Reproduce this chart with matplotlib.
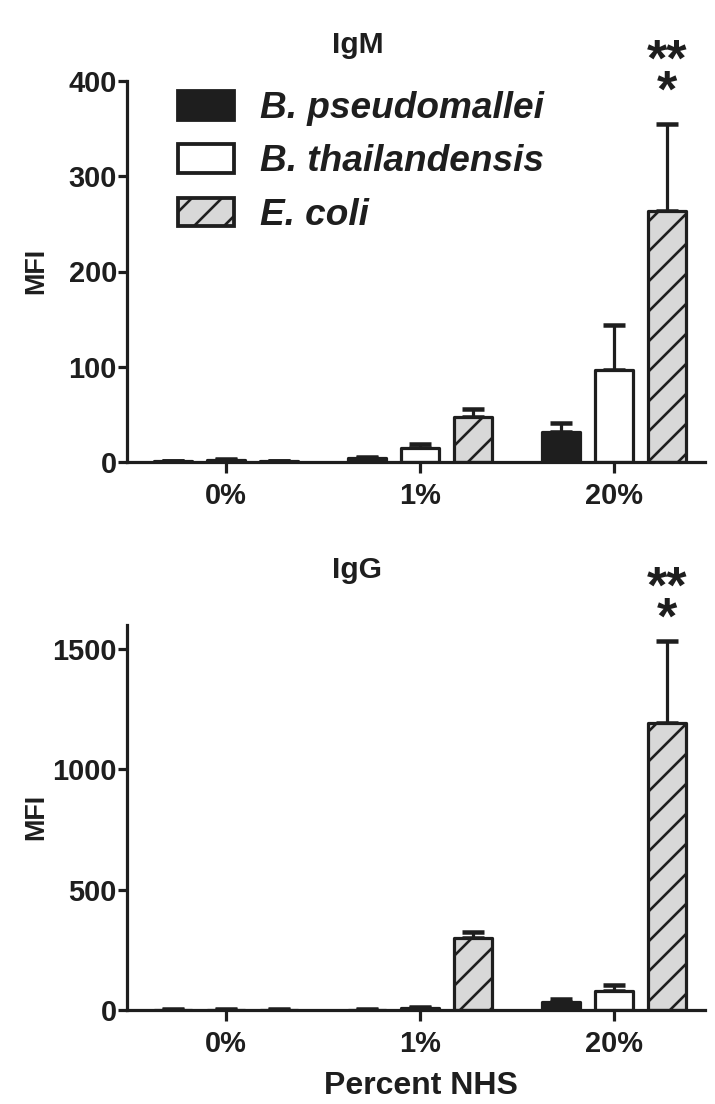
import matplotlib
matplotlib.use("Agg")
import matplotlib.pyplot as plt
import numpy as np
from matplotlib.patches import Patch
from matplotlib.transforms import blended_transform_factory

DPI = 180
W, H = 715, 1104
def pt(px):
    return px * 72.0 / DPI

plt.rcParams['font.family'] = ['Liberation Sans', 'DejaVu Sans']
plt.rcParams['hatch.linewidth'] = pt(2.6)
plt.rcParams['hatch.color'] = '#222222'

# ---- data ----
groups = ["0%", "1%", "20%"]
series = ["B. pseudomallei", "B. thailandensis", "E. coli"]

igm_bp = [1, 4, 32]
igm_bt = [2, 15, 97]
igm_ec = [1, 47, 263]
igm_bp_err = [0.5, 1, 9]
igm_bt_err = [1, 4, 47]
igm_ec_err = [0.5, 9, 92]

igg_bp = [2, 2, 35]
igg_bt = [2, 8, 78]
igg_ec = [2, 301, 1194]
igg_bp_err = [0.5, 0.5, 9]
igg_bt_err = [0.5, 4, 27]
igg_ec_err = [0.5, 23, 340]

igm_ticks = [0, 100, 200, 300, 400]
igg_ticks = [0, 500, 1000, 1500]

EDGE = '#1e1e1e'
faces = ['#1e1e1e', 'white', '#d8d8d8']
hatches = [None, None, '//']

narrow = ['Liberation Sans Narrow', 'Liberation Sans', 'DejaVu Sans']

fig = plt.figure(figsize=(W / DPI, H / DPI), dpi=DPI)

def fx(px):
    return px / W
def fy(py):
    return 1 - py / H

ax1 = fig.add_axes([fx(127), fy(462), fx(705) - fx(127), fy(81) - fy(462)])
ax2 = fig.add_axes([fx(127), fy(1010), fx(705) - fx(127), fy(625) - fy(1010)])

x = np.arange(len(groups))
offset = 0.272
width = 0.196
lw = pt(3.2)

def draw(ax, vals, errs, ylim, ticks):
    for i, (v, e) in enumerate(zip(vals, errs)):
        pos = x + (i - 1) * offset
        ax.errorbar(pos, v, yerr=[np.zeros(len(e)), e], fmt='none', ecolor=EDGE,
                    elinewidth=lw, capsize=pt(11), capthick=pt(4.5), zorder=1)
        ax.bar(pos, v, width, color=faces[i], edgecolor=EDGE, linewidth=lw,
               hatch=hatches[i], zorder=2, joinstyle='round')
    ax.set_xlim(-0.51, 2.47)
    ax.set_ylim(*ylim)
    ax.set_yticks(ticks)
    ax.set_xticks(x)
    ax.set_xticklabels(groups)
    for s in ['top', 'right']:
        ax.spines[s].set_visible(False)
    for s in ['left', 'bottom']:
        ax.spines[s].set_linewidth(lw)
        ax.spines[s].set_color(EDGE)
    ax.tick_params(axis='y', length=pt(9), width=lw, color=EDGE, pad=pt(1))
    ax.tick_params(axis='x', length=pt(11), width=lw, color=EDGE, pad=pt(9))
    for lab in ax.get_yticklabels() + ax.get_xticklabels():
        lab.set_family(narrow)
        lab.set_fontweight('bold')
        lab.set_fontsize(pt(29))
        lab.set_color('#1e1e1e')

draw(ax1, [igm_bp, igm_bt, igm_ec], [igm_bp_err, igm_bt_err, igm_ec_err], (0, 400), igm_ticks)
draw(ax2, [igg_bp, igg_bt, igg_ec], [igg_bp_err, igg_bt_err, igg_ec_err], (0, 1600), igg_ticks)

# titles and labels
fig.text(0.5, fy(45), "IgM", ha='center', va='center', fontsize=pt(30), fontweight='bold', color='#1e1e1e')
fig.text(0.5, fy(570), "IgG", ha='center', va='center', fontsize=pt(30), fontweight='bold', color='#1e1e1e')
fig.text(fx(36), fy(271), "MFI", ha='center', va='center', rotation=90, fontsize=pt(27), fontweight='bold', color='#1e1e1e')
fig.text(fx(36), fy(817), "MFI", ha='center', va='center', rotation=90, fontsize=pt(27), fontweight='bold', color='#1e1e1e')
fig.text(fx(421), fy(1086), "Percent NHS", ha='center', va='center', fontsize=pt(32), fontweight='bold', color='#1e1e1e')

# significance asterisks
for ax, yc in [(ax1, 78), (ax2, 605)]:
    tr = blended_transform_factory(ax.transData, fig.transFigure)
    ax.text(2 + offset, fy(yc), "**\n*", transform=tr, ha='center', va='center',
            multialignment='center', linespacing=0.53,
            fontsize=pt(52), fontweight='bold', color='#1e1e1e', clip_on=False)

# legend
FS = 37
handles = [Patch(facecolor=faces[i], edgecolor=EDGE, linewidth=pt(3.8), hatch=hatches[i],
                 joinstyle='round') for i in range(3)]
leg = ax1.legend(handles, series, loc='upper left', bbox_to_anchor=(fx(178), fy(91)),
                 bbox_transform=fig.transFigure, frameon=False, borderpad=0, borderaxespad=0,
                 handlelength=56 / FS, handleheight=30 / FS, handletextpad=0.7, labelspacing=0.49,
                 prop=dict(size=pt(FS), weight='bold', style='italic'))
for t in leg.get_texts():
    t.set_color('#1e1e1e')

fig.savefig("out.png", dpi=DPI)
